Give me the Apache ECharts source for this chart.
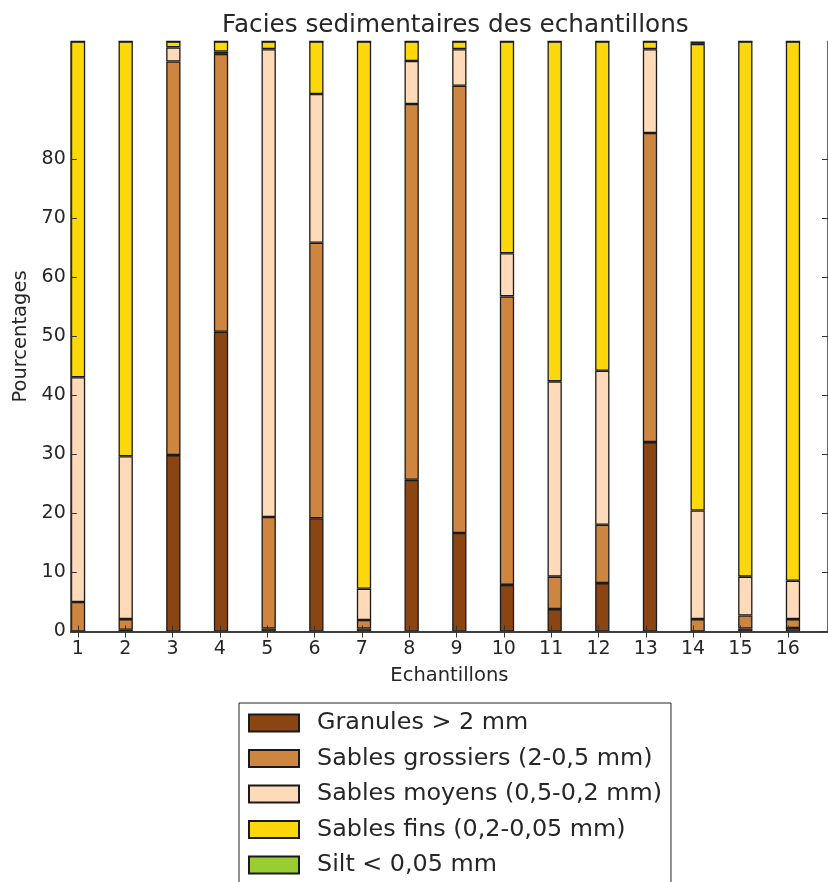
<!DOCTYPE html>
<html>
<head>
<meta charset="utf-8">
<script src="https://cdn.jsdelivr.net/npm/echarts@6/dist/echarts.min.js"></script>
<style>html,body{margin:0;padding:0;background:#fff;}#c{width:828px;height:882px;}</style>
</head>
<body>
<div id="c"></div>
<script>
const samples = [1,2,3,4,5,6,7,8,9,10,11,12,13,14,15,16];
const yTicks = [0,10,20,30,40,50,60,70,80];
const seriesNames = ['Granules > 2 mm','Sables grossiers (2-0,5 mm)','Sables moyens (0,5-0,2 mm)','Sables fins (0,2-0,05 mm)','Silt < 0,05 mm'];
const colors = ['#8B4513','#CD853F','#FFDAB9','#FCD80A','#9ACD32'];
const granules = [0,0.3,29.9,50.8,0.5,19.2,0.5,25.7,16.7,7.9,3.8,8.2,32.1,0,0.5,0.6];
const grossiers = [5.0,1.8,66.7,47.1,18.9,46.7,1.45,63.7,75.8,48.9,5.5,9.9,52.4,2.1,2.2,1.5];
const moyens = [38.1,27.6,2.4,0.4,79.3,25.2,5.3,7.3,6.2,7.3,33.1,26.1,14.2,18.4,6.6,6.5];
const fins = [56.9,70.3,1.0,1.7,1.3,8.9,92.75,3.3,1.3,35.9,57.6,55.8,1.3,79.1,90.7,91.4];
const silt = [0,0,0,0,0,0,0,0,0,0,0,0,0,0.4,0,0];

const values = [granules, grossiers, moyens, fins, silt];
const txt = '#262626';
const font = 'DejaVu Sans';
const axLine = {show:true, lineStyle:{color:'#333', width:1.5}};
const tickStyle = {color:'#333', width:1};
const TOP = 41.5, BOTTOM = 250.5;

const chart = echarts.init(document.getElementById('c'), null, {renderer:'canvas'});
chart.setOption({
  animation:false,
  backgroundColor:'#fff',
  textStyle:{fontFamily:font},
  title:{text:'Facies sedimentaires des echantillons', left:217, top:8,
    textStyle:{fontSize:24.7, fontWeight:'normal', color:txt, fontFamily:font}},
  grid:[
    {left:54.2, right:11.2, top:TOP, bottom:BOTTOM, containLabel:false},
    {left:70.8, right:-5.5, top:TOP, bottom:BOTTOM, containLabel:false}
  ],
  xAxis:[
    {type:'category', gridIndex:0, data:samples, boundaryGap:true,
     axisLine:{show:false}, axisTick:{show:false}, axisLabel:{show:false}, splitLine:{show:false}},
    {type:'value', gridIndex:1, position:'bottom', min:0.85, max:16.85, z:10,
     name:'Echantillons', nameLocation:'middle', nameGap:34,
     nameTextStyle:{fontSize:19.5, color:txt, fontFamily:font},
     axisLine:axLine, splitLine:{show:false},
     axisTick:{show:true, inside:true, length:6, customValues:samples, lineStyle:tickStyle},
     axisLabel:{show:true, customValues:samples, fontSize:19, color:txt, fontFamily:font, margin:8}},
    {type:'value', gridIndex:1, position:'top', min:0.85, max:16.85, z:10,
     axisLine:axLine, splitLine:{show:false},
     axisTick:{show:true, inside:true, length:6, customValues:samples, lineStyle:tickStyle},
     axisLabel:{show:false}}
  ],
  yAxis:[
    {type:'value', gridIndex:0, min:0, max:100,
     axisLine:{show:false}, axisTick:{show:false}, axisLabel:{show:false}, splitLine:{show:false}},
    {type:'value', gridIndex:1, position:'left', min:0, max:100, z:10,
     name:'Pourcentages', nameLocation:'middle', nameGap:36, nameRotate:90,
     nameTextStyle:{fontSize:19.5, color:txt, fontFamily:font},
     axisLine:axLine, splitLine:{show:false},
     axisTick:{show:true, inside:true, length:6, customValues:yTicks, lineStyle:tickStyle},
     axisLabel:{show:true, customValues:yTicks, fontSize:19, color:txt, fontFamily:font, margin:5}},
    {type:'value', gridIndex:1, position:'right', min:0, max:100, z:10,
     axisLine:axLine, splitLine:{show:false},
     axisTick:{show:true, inside:true, length:6, customValues:yTicks, lineStyle:tickStyle},
     axisLabel:{show:false}}
  ],
  legend:{orient:'vertical', left:239, top:703, height:260, icon:'rect',
    itemWidth:50, itemHeight:17, itemGap:11.5, padding:[8,9,8,9],
    borderColor:'#222', borderWidth:1, backgroundColor:'#fff',
    textStyle:{fontSize:23.85, lineHeight:24, color:txt, fontFamily:font, padding:[0,0,0,13]},
    data:seriesNames},
  series: seriesNames.map((n,i)=>({
    name:n, type:'bar', stack:'total', xAxisIndex:0, yAxisIndex:0,
    barWidth:14.3,
    itemStyle:{color:colors[i], borderColor:'#1a1a1a', borderWidth:1.3},
    data: values[i]
  }))
});
</script>
</body>
</html>
